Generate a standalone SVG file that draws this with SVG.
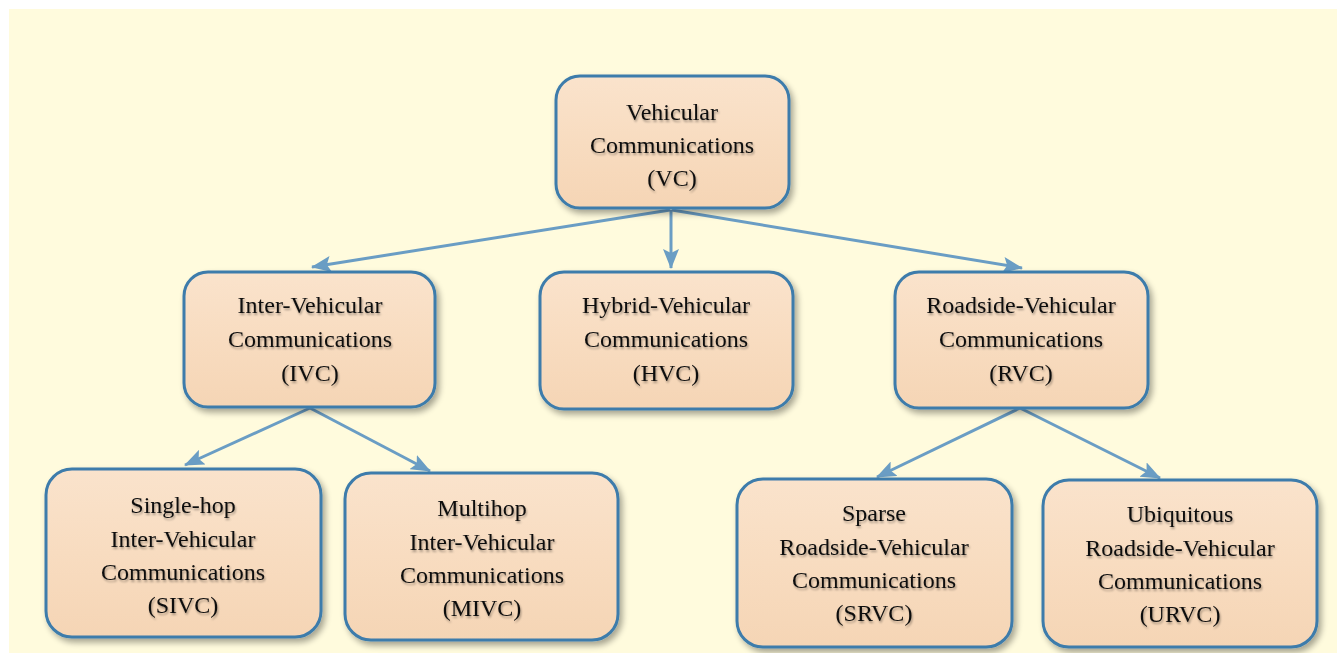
<svg xmlns="http://www.w3.org/2000/svg" width="1337" height="653" viewBox="0 0 1337 653">
  <defs>
    <linearGradient id="boxFill" x1="0" y1="0" x2="0" y2="1">
      <stop offset="0" stop-color="#FAE3CC"/>
      <stop offset="0.5" stop-color="#F8DCC0"/>
      <stop offset="1" stop-color="#F5D5B5"/>
    </linearGradient>
    <filter id="shadow" x="-10%" y="-10%" width="125%" height="130%">
      <feGaussianBlur in="SourceAlpha" stdDeviation="3"/>
      <feOffset dx="3" dy="4" result="b"/>
      <feComponentTransfer><feFuncA type="linear" slope="0.35"/></feComponentTransfer>
      <feMerge><feMergeNode/><feMergeNode in="SourceGraphic"/></feMerge>
    </filter>
    <filter id="tshadow" x="-5%" y="-20%" width="110%" height="140%">
      <feGaussianBlur in="SourceAlpha" stdDeviation="1"/>
      <feOffset dx="1" dy="1.5"/>
      <feComponentTransfer><feFuncA type="linear" slope="0.35"/></feComponentTransfer>
      <feMerge><feMergeNode/><feMergeNode in="SourceGraphic"/></feMerge>
    </filter>
    <marker id="arrow" viewBox="0 0 20 16" refX="19" refY="8" markerWidth="20" markerHeight="16" markerUnits="userSpaceOnUse" orient="auto">
      <path d="M0,0 L20,8 L0,16 L4,8 Z" fill="#6A9DC4"/>
    </marker>
    <style>
      .box { fill: url(#boxFill); stroke: #3C7BAB; stroke-width: 3; filter: url(#shadow); }
      .lbl { font-family: "Liberation Serif", "Times New Roman", serif; font-size: 24px; fill: #0D0D0D; text-anchor: middle; filter: url(#tshadow); }
      .conn { stroke: #6A9DC4; stroke-width: 3; fill: none; marker-end: url(#arrow); }
    </style>
  </defs>

  <rect x="0" y="0" width="1337" height="653" fill="#FFFFFF"/>
  <rect x="9" y="9" width="1328" height="644" fill="#FFFBDD"/>

  <g id="connectors">
    <line class="conn" x1="670" y1="210" x2="312" y2="267"/>
    <line class="conn" x1="671" y1="210" x2="671" y2="268"/>
    <line class="conn" x1="672" y1="210" x2="1022" y2="268"/>
    <line class="conn" x1="310" y1="408" x2="185" y2="465"/>
    <line class="conn" x1="310" y1="408" x2="430" y2="471"/>
    <line class="conn" x1="1020" y1="408" x2="877" y2="477"/>
    <line class="conn" x1="1020" y1="408" x2="1160" y2="478"/>
  </g>

  <g id="node-vc">
    <rect class="box" x="556" y="76" width="233" height="132" rx="24"/>
    <text class="lbl" x="672" y="120">Vehicular</text>
    <text class="lbl" x="672" y="153">Communications</text>
    <text class="lbl" x="672" y="186">(VC)</text>
  </g>

  <g id="node-ivc">
    <rect class="box" x="184" y="272" width="251" height="135" rx="24"/>
    <text class="lbl" x="310" y="313">Inter-Vehicular</text>
    <text class="lbl" x="310" y="347">Communications</text>
    <text class="lbl" x="310" y="381">(IVC)</text>
  </g>

  <g id="node-hvc">
    <rect class="box" x="540" y="272" width="253" height="137" rx="24"/>
    <text class="lbl" x="666" y="313">Hybrid-Vehicular</text>
    <text class="lbl" x="666" y="347">Communications</text>
    <text class="lbl" x="666" y="381">(HVC)</text>
  </g>

  <g id="node-rvc">
    <rect class="box" x="895" y="272" width="253" height="136" rx="24"/>
    <text class="lbl" x="1021" y="313">Roadside-Vehicular</text>
    <text class="lbl" x="1021" y="347">Communications</text>
    <text class="lbl" x="1021" y="381">(RVC)</text>
  </g>

  <g id="node-sivc">
    <rect class="box" x="46" y="469" width="275" height="168" rx="26"/>
    <text class="lbl" x="183" y="513">Single-hop</text>
    <text class="lbl" x="183" y="547">Inter-Vehicular</text>
    <text class="lbl" x="183" y="580">Communications</text>
    <text class="lbl" x="183" y="613">(SIVC)</text>
  </g>

  <g id="node-mivc">
    <rect class="box" x="345" y="473" width="273" height="167" rx="26"/>
    <text class="lbl" x="482" y="516">Multihop</text>
    <text class="lbl" x="482" y="550">Inter-Vehicular</text>
    <text class="lbl" x="482" y="583">Communications</text>
    <text class="lbl" x="482" y="616">(MIVC)</text>
  </g>

  <g id="node-srvc">
    <rect class="box" x="737" y="479" width="275" height="168" rx="26"/>
    <text class="lbl" x="874" y="521">Sparse</text>
    <text class="lbl" x="874" y="555">Roadside-Vehicular</text>
    <text class="lbl" x="874" y="588">Communications</text>
    <text class="lbl" x="874" y="621">(SRVC)</text>
  </g>

  <g id="node-urvc">
    <rect class="box" x="1043" y="480" width="274" height="167" rx="26"/>
    <text class="lbl" x="1180" y="522">Ubiquitous</text>
    <text class="lbl" x="1180" y="556">Roadside-Vehicular</text>
    <text class="lbl" x="1180" y="589">Communications</text>
    <text class="lbl" x="1180" y="622">(URVC)</text>
  </g>
</svg>
